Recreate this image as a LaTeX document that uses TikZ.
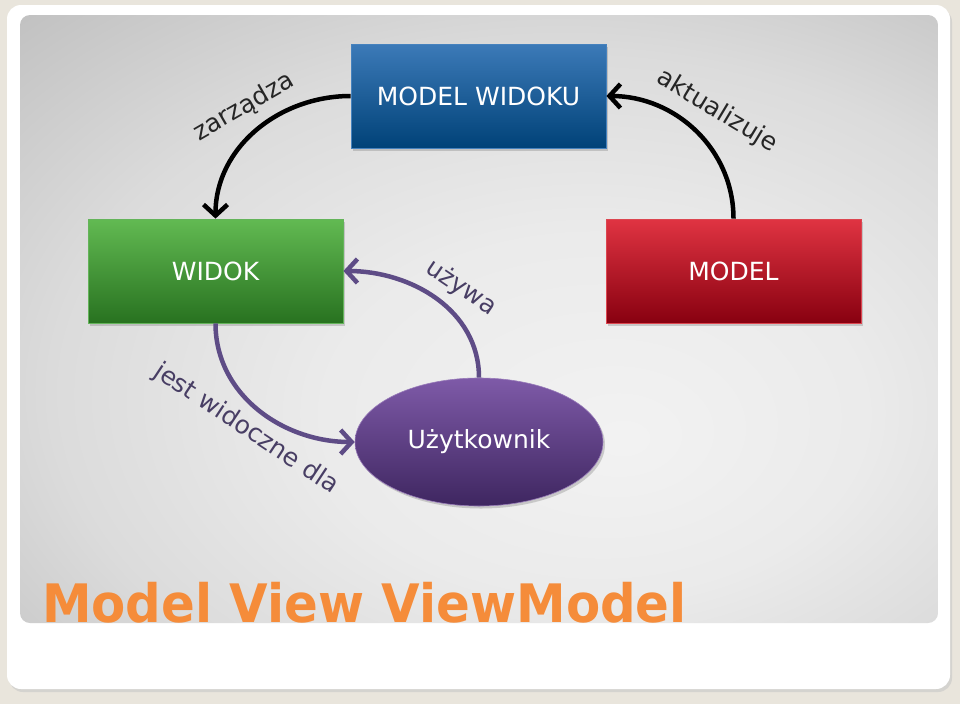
\documentclass[tikz,border=0pt]{standalone}
\usepackage{fontspec}
\setmainfont{DejaVu Sans}
\usetikzlibrary{arrows.meta,shadows,shapes.geometric}
\definecolor{frameC}{RGB}{233,229,220}
\definecolor{blueT}{RGB}{60,122,184}
\definecolor{blueB}{RGB}{0,66,120}
\definecolor{blueL}{RGB}{70,130,190}
\definecolor{greenT}{RGB}{98,186,82}
\definecolor{greenB}{RGB}{40,114,32}
\definecolor{greenL}{RGB}{100,180,90}
\definecolor{redT}{RGB}{224,52,66}
\definecolor{redB}{RGB}{136,0,16}
\definecolor{redL}{RGB}{220,70,80}
\definecolor{purT}{RGB}{126,90,168}
\definecolor{purB}{RGB}{62,38,96}
\definecolor{purArrow}{RGB}{94,76,134}
\definecolor{purText}{RGB}{72,62,100}
\definecolor{orangeT}{RGB}{245,140,58}
\pgfdeclareradialshading{panelshade}{\pgfpoint{8bp}{-10bp}}{color(0bp)=(black!5); color(15bp)=(black!8); color(28bp)=(black!14); color(38bp)=(black!22); color(48bp)=(black!30); color(60bp)=(black!38); color(70bp)=(black!42)}
\tikzset{
  box/.style={rectangle, minimum width=255pt, minimum height=104pt, inner sep=0pt,
    text=white, font=\fontsize{25}{30}\selectfont, line width=0.8pt,
    drop shadow={opacity=0.35, shadow xshift=2pt, shadow yshift=-2.5pt}},
  blk/.style={line width=4.5pt, draw=black, -{Straight Barb[length=11pt,width=24pt]}},
  pur/.style={line width=4.5pt, draw=purArrow, -{Straight Barb[length=11pt,width=24pt]}},
  lbl/.style={font=\fontsize{25}{29}\selectfont, inner sep=0pt},
}
\begin{document}
\begin{tikzpicture}[x=1pt,y=1pt]
\useasboundingbox (0,0) rectangle (960,-704);
\fill[frameC] (0,0) rectangle (960,-704);
\fill[black!22, opacity=0.6, rounded corners=14pt] (9,-8) rectangle (952,-692);
\fill[white, rounded corners=14pt] (7,-5) rectangle (950,-689);
\shade[shading=panelshade, rounded corners=10pt] (20,-15) rectangle (938,-623);

\node[box, top color=blueT, bottom color=blueB, draw=blueL] (mvm) at (478.5,-96) {MODEL WIDOKU};
\node[box, top color=greenT, bottom color=greenB, draw=greenL] (widok) at (215.5,-271) {WIDOK};
\node[box, top color=redT, bottom color=redB, draw=redL] (model) at (733.5,-271) {MODEL};
\node[ellipse, minimum width=248pt, minimum height=128pt, inner sep=0pt,
  top color=purT, bottom color=purB, draw=purT!80!white, line width=0.6pt,
  text=white, font=\fontsize{25}{29}\selectfont,
  drop shadow={opacity=0.35, shadow xshift=2pt, shadow yshift=-2.5pt}] (user) at (479,-442) {Użytkownik};

\draw[blk] (mvm.west) to[out=180,in=90] (widok.north);
\draw[blk] (model.north) to[out=90,in=0] (mvm.east);
\draw[pur] (user.north) to[out=90,in=0] (widok.east);
\draw[pur] (widok.south) to[out=-90,in=180] (user.west);

\node[lbl, text=black!85, rotate=30] (lz) at (244,-107) {zarządza};
\node[lbl, text=black!85, rotate=-31] (la) at (717,-111) {aktualizuje};
\node[lbl, text=purText, rotate=-34] (lu) at (461,-288) {używa};
\node[lbl, text=purText, rotate=-33.5] (lj) at (246,-429) {jest widoczne dla};

\node[anchor=base west, inner sep=0pt, text=orangeT, font=\fontsize{53}{60}\selectfont\bfseries] (title) at (42,-622) {\scalebox{0.94}[1]{Model View ViewModel}};
\end{tikzpicture}
\end{document}
